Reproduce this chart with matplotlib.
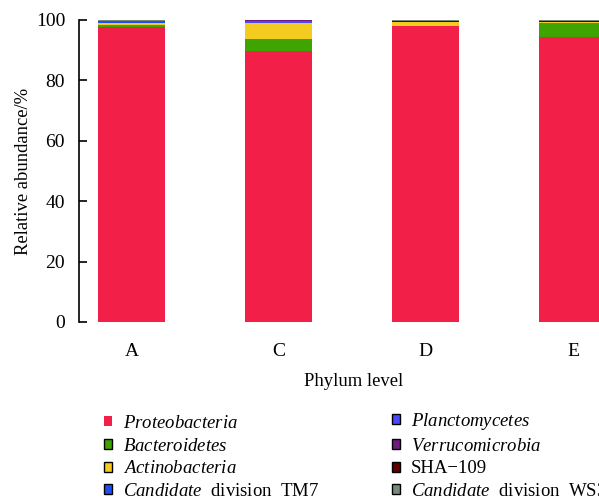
import matplotlib
matplotlib.use("Agg")
import matplotlib.pyplot as plt
import numpy as np
from matplotlib.patches import Patch

plt.rcParams['font.family'] = ['Liberation Serif', 'DejaVu Serif']
plt.rcParams['mathtext.fontset'] = 'custom'
plt.rcParams['mathtext.rm'] = 'Liberation Serif'
plt.rcParams['mathtext.it'] = 'Liberation Serif:italic'

samples = ["A", "C", "D", "E"]
phyla = [r"$\mathit{Proteobacteria}$", r"$\mathit{Bacteroidetes}$",
         r"$\mathit{Actinobacteria}$", r"$\mathit{Candidate}$  division  TM7",
         r"$\mathit{Planctomycetes}$", r"$\mathit{Verrucomicrobia}$",
         "SHA−109", r"$\mathit{Candidate}$  division  WS3"]
colors = ["#F22049", "#3FA400", "#F2CD1F", "#1F4FF0",
          "#4A4AF8", "#6F1A80", "#5E0000", "#7A8A7A"]
edges = ["none", "black", "black", "black", "black", "black", "black", "black"]

proteobacteria = [97.7, 89.7, 98.0, 94.4]
bacteroidetes = [0.7, 4.0, 0.0, 4.6]
actinobacteria = [0.7, 5.3, 1.3, 0.3]
tm7 = [0.6, 0.0, 0.0, 0.0]
planctomycetes = [0.1, 0.6, 0.0, 0.1]
verrucomicrobia = [0.0, 0.3, 0.0, 0.1]
sha109 = [0.0, 0.0, 0.3, 0.3]
ws3 = [0.2, 0.1, 0.4, 0.2]

series = [proteobacteria, bacteroidetes, actinobacteria, tm7,
          planctomycetes, verrucomicrobia, sha109, ws3]

fig = plt.figure(figsize=(5.99, 4.99), dpi=100)
W, H = 599, 499
x0, x1, ytop, ybot = 79, 625, 20, 322
ax = fig.add_axes([x0 / W, 1 - ybot / H, (x1 - x0) / W, (ybot - ytop) / H])

x = np.arange(len(samples))
bottom = np.zeros(len(samples))
for vals, c in zip(series, colors):
    v = np.array(vals)
    ax.bar(x, v, width=0.456, bottom=bottom, color=c, linewidth=0)
    bottom += v

ax.set_xlim(-0.36, 3.354)
ax.set_ylim(0, 100)
ax.set_yticks([0, 20, 40, 60, 80, 100])
ax.set_xticks(x)
ax.set_xticklabels(samples, fontsize=14)
ax.tick_params(axis='y', labelsize=14, direction='in', length=6, width=1.2, pad=10)
ax.tick_params(axis='x', length=0, pad=15)
for s in ['top', 'right', 'bottom']:
    ax.spines[s].set_visible(False)
ax.spines['left'].set_linewidth(1.2)
ax.set_ylabel("Relative abundance/%", fontsize=13.4, labelpad=3)
fig.text(354 / W, 1 - 381 / H, "Phylum level", fontsize=13.4, ha='center', va='center')

handles = [Patch(facecolor=c, edgecolor=e, linewidth=1.0) for c, e in zip(colors, edges)]
common = dict(loc='upper left', frameon=False, fontsize=13.5, handlelength=0.45,
              handleheight=0.45, handletextpad=0.55, labelspacing=0.3,
              borderaxespad=0, borderpad=0)
fig.legend(handles[:4], phyla[:4], bbox_to_anchor=(104 / W, 1 - 415 / H), **common)
fig.legend(handles[4:], phyla[4:], bbox_to_anchor=(392 / W, 1 - 411 / H), **common)

fig.savefig("out.png", dpi=100)
